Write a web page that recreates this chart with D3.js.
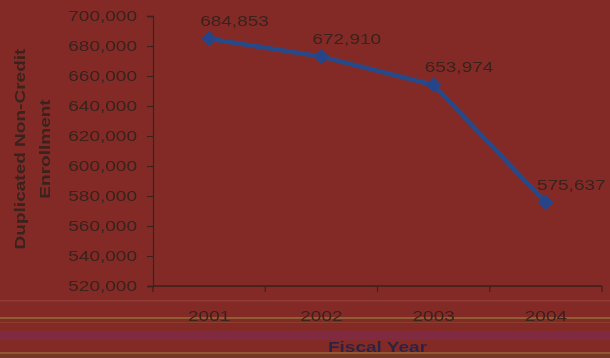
<!DOCTYPE html>
<html>
<head>
<meta charset="utf-8">
<script src="https://cdn.jsdelivr.net/npm/d3@7/dist/d3.min.js"></script>
<style>
  html, body { margin: 0; padding: 0; background: #842c27; }
  svg { display: block; }
  text { font-family: "Liberation Sans", Arial, sans-serif; }
</style>
</head>
<body>
<svg id="chart" width="610" height="358"></svg>
<script>
// Fiscal years and duplicated non-credit enrollment
const years = ["2001", "2002", "2003", "2004"];
const enrollment = [684853, 672910, 653974, 575637];
const yTicks = [520000, 540000, 560000, 580000, 600000, 620000, 640000, 660000, 680000, 700000];
const yTitleLines = ["Duplicated Non-Credit", "Enrollment"];
const xTitle = "Fiscal Year";

const W = 610, H = 358;
const plot = { left: 153, right: 602, top: 16, bottom: 286 };
const stretch = 1.27;            // wide lettering
const ink = "#3a201e";
const lineBlue = "#28488a";

const svg = d3.select("#chart");

// slight softening of the whole sheet
const defs = svg.append("defs");
defs.append("filter").attr("id", "soft")
  .append("feGaussianBlur").attr("stdDeviation", 0.55);

const root = svg.append("g").attr("filter", "url(#soft)");

// background
root.append("rect").attr("width", W).attr("height", H).attr("fill", "#842c27");

// horizontal banding along the bottom of the sheet
const bands = [
  { y: 300, h: 1.5, c: "rgba(180,100,100,0.25)" },
  { y: 317, h: 2, c: "rgba(165,150,70,0.45)" },
  { y: 322, h: 1, c: "rgba(150,120,60,0.25)" },
  { y: 331, h: 9, c: "rgba(115,45,120,0.3)" },
  { y: 352, h: 2, c: "rgba(165,145,60,0.45)" },
  { y: 354, h: 4, c: "rgba(100,70,40,0.45)" }
];
root.append("g").selectAll("rect").data(bands).join("rect")
  .attr("x", 0).attr("width", W)
  .attr("y", d => d.y).attr("height", d => d.h)
  .attr("fill", d => d.c);

const x = d3.scaleBand().domain(years).range([plot.left, plot.right]).paddingInner(0).paddingOuter(0);
const y = d3.scaleLinear().domain([520000, 700000]).range([plot.bottom, plot.top]);

// y axis
const yAxis = root.append("g")
  .attr("transform", `translate(${plot.left},0)`)
  .call(d3.axisLeft(y).tickValues(yTicks).tickFormat(d3.format(",")).tickSize(6).tickPadding(6.6));
yAxis.select(".domain").attr("stroke", ink).attr("stroke-width", 1.3);
yAxis.selectAll(".tick line").attr("stroke", ink).attr("stroke-width", 1.2);
yAxis.selectAll(".tick text")
  .attr("fill", ink).attr("font-size", 15)
  .attr("transform", `scale(${stretch},1)`);

// x axis: labels centred in each band, tick marks between bands
const xAxis = root.append("g")
  .attr("transform", `translate(0,${plot.bottom})`)
  .call(d3.axisBottom(x).tickSize(0).tickPadding(24));
xAxis.select(".domain").remove();
xAxis.selectAll(".tick text")
  .attr("fill", ink).attr("font-size", 15)
  .attr("transform", `scale(${stretch},1)`);
xAxis.append("line")
  .attr("x1", plot.left).attr("x2", plot.right)
  .attr("stroke", ink).attr("stroke-width", 1.3);
const edges = years.map(d => x(d)).concat([x.range()[1]]);
xAxis.selectAll(".edge").data(edges).join("line")
  .attr("class", "edge")
  .attr("x1", d => d).attr("x2", d => d)
  .attr("y1", 0).attr("y2", 6)
  .attr("stroke", ink).attr("stroke-width", 1.2);

// series
const pts = years.map((yr, i) => ({ yr, v: enrollment[i] }));
const cx = d => x(d.yr) + x.bandwidth() / 2;

root.append("path")
  .datum(pts)
  .attr("fill", "none")
  .attr("stroke", lineBlue)
  .attr("stroke-width", 4.5)
  .attr("stroke-linejoin", "round")
  .attr("d", d3.line().x(cx).y(d => y(d.v)));

root.append("g").selectAll("path").data(pts).join("path")
  .attr("d", d3.symbol(d3.symbolSquare).size(120))
  .attr("transform", d => `translate(${cx(d)},${y(d.v)}) rotate(45)`)
  .attr("fill", "#264488");

// value labels
root.append("g").selectAll("text").data(pts).join("text")
  .attr("transform", d => `translate(${cx(d) - 9},${y(d.v) - 13}) scale(${stretch},1)`)
  .attr("fill", ink).attr("font-size", 15)
  .text(d => d3.format(",")(d.v));

// axis titles
root.append("text")
  .attr("transform", `translate(${(plot.left + plot.right) / 2},352) scale(${stretch},1)`)
  .attr("text-anchor", "middle")
  .attr("font-size", 15).attr("font-weight", "bold")
  .attr("fill", "#2e2442")
  .text(xTitle);

const yMid = (plot.top + plot.bottom) / 2;
root.append("g").selectAll("text").data(yTitleLines).join("text")
  .attr("transform", (d, i) => `translate(${25 + i * 25},${yMid - 2}) rotate(-90) scale(${stretch},1)`)
  .attr("text-anchor", "middle")
  .attr("font-size", 15).attr("font-weight", "bold")
  .attr("fill", ink)
  .text(d => d);
</script>
</body>
</html>
